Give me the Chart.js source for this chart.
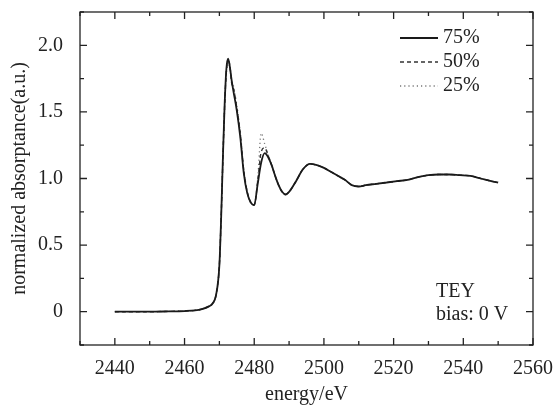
<!DOCTYPE html>
<html>
<head>
<meta charset="utf-8">
<script src="https://cdn.jsdelivr.net/npm/chart.js@4.4.0/dist/chart.umd.min.js"></script>
<style>
  html, body { margin: 0; padding: 0; background: #fff; }
  #wrap { width: 553px; height: 405px; }
</style>
</head>
<body>
<div id="wrap"><canvas id="xasChart" width="553" height="405"></canvas></div>
<script>
// photon energy (eV)
const energy = [2440,2445,2450,2455,2460,2463,2465,2467,2468,2469,
  2470,2470.5,2471,2471.5,2472,2472.5,2473,2473.5,2474,
  2475,2476,2477,2478,2479,2480,2481,2482,2483,2484,2485,2486,2487,2488,2489,2490,
  2492,2494,2496,2498,2500,2502,2504,2506,2508,2510,
  2512,
  2515,2518,2521,2524,2527,2530,2533,2536,2539,2542,2545,2548,
  2550];

const abs75 = [0,0,0,0.002,0.005,0.01,0.02,0.04,0.06,0.12,
  0.35,0.7,1.15,1.55,1.82,1.9,1.84,1.74,1.66,
  1.51,1.31,1.04,0.89,0.82,0.8,0.96,1.12,1.19,1.16,1.1,1.02,0.95,0.9,0.88,0.9,
  0.98,1.07,1.11,1.1,1.08,1.05,1.02,0.99,0.95,0.94,
  0.95,
  0.96,0.97,0.98,0.99,1.01,1.025,1.03,1.03,1.025,1.02,1.0,0.98,
  0.97];

const abs50 = [0,0,0,0.002,0.005,0.01,0.02,0.04,0.06,0.12,
  0.35,0.7,1.14,1.54,1.8,1.88,1.85,1.72,1.68,
  1.53,1.33,1.06,0.9,0.82,0.8,0.98,1.2,1.23,1.17,1.1,1.02,0.95,0.9,0.88,0.9,
  0.98,1.07,1.11,1.1,1.08,1.05,1.02,0.99,0.95,0.94,
  0.95,
  0.96,0.97,0.98,0.99,1.01,1.025,1.03,1.03,1.025,1.02,1.0,0.98,
  0.97];

const abs25 = [0,0,0,0.002,0.005,0.01,0.02,0.04,0.06,0.12,
  0.35,0.7,1.14,1.53,1.8,1.87,1.83,1.73,1.7,
  1.55,1.35,1.07,0.9,0.82,0.8,1.0,1.34,1.26,1.18,1.1,1.02,0.95,0.9,0.88,0.9,
  0.98,1.07,1.11,1.1,1.08,1.05,1.02,0.99,0.95,0.94,
  0.95,
  0.96,0.97,0.98,0.99,1.01,1.025,1.03,1.03,1.025,1.02,1.0,0.98,
  0.97];

const seriesLabels = ['75%', '50%', '25%'];
const xTickLabels = [2440, 2460, 2480, 2500, 2520, 2540, 2560];
const yTickLabels = [0, 0.5, 1.0, 1.5, 2.0];
const noteLines = ['TEY', 'bias: 0 V'];

const serif = "'Liberation Serif', 'Times New Roman', serif";
const ink = '#222';
const fontSize = 20;

function pts(ys) {
  return energy.map(function(e, i) { return {x: e, y: ys[i]}; });
}

// inward ticks on all four sides plus the box
const framePlugin = {
  id: 'frame',
  afterDraw: function(chart) {
    const ctx = chart.ctx;
    const a = chart.chartArea;
    const xs = chart.scales.x, ys = chart.scales.y;
    ctx.save();
    ctx.strokeStyle = ink;
    ctx.lineWidth = 1.3;
    ctx.strokeRect(a.left, a.top, a.right - a.left, a.bottom - a.top);
    ctx.beginPath();
    xs.ticks.forEach(function(t) {
      const px = xs.getPixelForValue(t.value);
      const len = xTickLabels.indexOf(t.value) >= 0 ? 7 : 4;
      ctx.moveTo(px, a.bottom); ctx.lineTo(px, a.bottom - len);
      ctx.moveTo(px, a.top); ctx.lineTo(px, a.top + len);
    });
    ys.ticks.forEach(function(t) {
      const py = ys.getPixelForValue(t.value);
      const major = yTickLabels.some(function(v) { return Math.abs(v - t.value) < 1e-6; });
      const len = major ? 7 : 4;
      ctx.moveTo(a.left, py); ctx.lineTo(a.left + len, py);
      ctx.moveTo(a.right, py); ctx.lineTo(a.right - len, py);
    });
    ctx.stroke();

    // legend
    ctx.font = fontSize + 'px ' + serif;
    ctx.textBaseline = 'middle';
    ctx.textAlign = 'left';
    chart.data.datasets.forEach(function(ds, i) {
      const y = a.top + 26 + i * 24;
      ctx.save();
      ctx.strokeStyle = ds.borderColor;
      ctx.lineWidth = ds.borderWidth;
      ctx.setLineDash(ds.borderDash || []);
      ctx.beginPath();
      ctx.moveTo(a.right - 133, y);
      ctx.lineTo(a.right - 95, y);
      ctx.stroke();
      ctx.restore();
      ctx.fillStyle = ink;
      ctx.fillText(ds.label, a.right - 90, y);
    });

    // note
    noteLines.forEach(function(s, i) {
      ctx.fillText(s, a.right - 97, a.bottom - 53 + i * 23);
    });
    ctx.restore();
  }
};

const data = {
  datasets: [
    { label: seriesLabels[0], data: pts(abs75), borderColor: '#1a1a1a', borderWidth: 1.8, borderDash: [] },
    { label: seriesLabels[1], data: pts(abs50), borderColor: '#333', borderWidth: 1.4, borderDash: [4, 3] },
    { label: seriesLabels[2], data: pts(abs25), borderColor: '#777', borderWidth: 1.3, borderDash: [1.2, 3] }
  ]
};

const config = {
  type: 'line',
  data: data,
  options: {
    responsive: false,
    animation: false,
    devicePixelRatio: 1,
    elements: {
      point: { radius: 0 },
      line: { cubicInterpolationMode: 'monotone', fill: false }
    },
    layout: { padding: { top: 12, right: 20, left: 0, bottom: 0 } },
    plugins: { legend: { display: false }, tooltip: { enabled: false } },
    scales: {
      x: {
        type: 'linear',
        min: 2430,
        max: 2560,
        grid: { display: false, drawTicks: false },
        border: { display: false },
        afterFit: function(s) { s.height = 60; s.paddingLeft = 0; s.paddingRight = 0; },
        ticks: {
          stepSize: 10,
          padding: 12,
          autoSkip: false,
          maxRotation: 0,
          color: ink,
          font: { family: serif, size: fontSize },
          callback: function(v) { return xTickLabels.indexOf(v) >= 0 ? String(v) : ''; }
        },
        title: {
          display: true,
          text: 'energy/eV',
          color: ink,
          padding: { top: 0, bottom: 0 },
          font: { family: serif, size: fontSize, lineHeight: 1 }
        }
      },
      y: {
        min: -0.25,
        max: 2.25,
        grid: { display: false, drawTicks: false },
        border: { display: false },
        afterFit: function(s) { s.width = 80; s.paddingTop = 0; s.paddingBottom = 0; },
        ticks: {
          stepSize: 0.25,
          padding: 17,
          autoSkip: false,
          color: ink,
          font: { family: serif, size: fontSize },
          callback: function(v) {
            const hit = yTickLabels.some(function(t) { return Math.abs(t - v) < 1e-6; });
            if (!hit) return '';
            return v === 0 ? '0' : v.toFixed(1);
          }
        },
        title: {
          display: true,
          text: 'normalized absorptance(a.u.)',
          color: ink,
          padding: { top: 10, bottom: 0 },
          font: { family: serif, size: fontSize, lineHeight: 1 }
        }
      }
    }
  },
  plugins: [framePlugin]
};

var chart = new Chart(document.getElementById('xasChart'), config);
</script>
</body>
</html>
